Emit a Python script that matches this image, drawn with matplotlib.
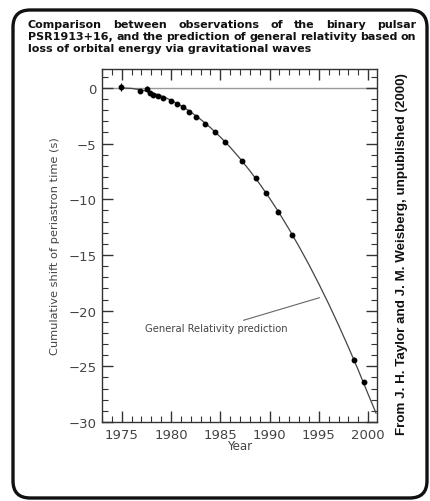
import matplotlib
matplotlib.use("Agg")
import matplotlib.pyplot as plt
from matplotlib.patches import FancyBboxPatch
from matplotlib.ticker import MultipleLocator

# ---- data ----
obs_year = [1974.9, 1976.9, 1977.6, 1977.9, 1978.2, 1978.7, 1979.2, 1980.0, 1980.6,
            1981.2, 1981.8, 1982.5, 1983.5, 1984.5, 1985.5, 1987.2, 1988.6, 1989.6,
            1990.9, 1992.3, 1998.6, 1999.6]
obs_shift = [0.1, -0.3, -0.1, -0.5, -0.6, -0.7, -0.9, -1.2, -1.4,
             -1.7, -2.2, -2.6, -3.2, -4.0, -4.9, -6.6, -8.1, -9.4,
             -11.1, -13.2, -24.4, -26.4]
obs_err = [0.35, 0.15, 0.3, 0.15, 0.15, 0.1, 0.1, 0.1, 0.1,
           0.1, 0.1, 0.1, 0.1, 0.1, 0.1, 0.1, 0.15, 0.15,
           0.2, 0.15, 0.2, 0.2]

gr_year = [1975, 1976, 1977, 1978, 1979, 1980, 1981, 1982, 1983, 1984, 1985, 1986,
           1987, 1988, 1989, 1990, 1991, 1992, 1993, 1994, 1995, 1996, 1997, 1998,
           1999, 2000, 2000.8]
gr_shift = [0.0, -0.04, -0.18, -0.40, -0.70, -1.10, -1.58, -2.16, -2.82, -3.56, -4.40,
            -5.32, -6.34, -7.44, -8.62, -9.90, -11.26, -12.72, -14.26, -15.88, -17.60,
            -19.40, -21.30, -23.28, -25.34, -27.50, -29.2]

xticks = [1975, 1980, 1985, 1990, 1995, 2000]
yticks = [0, -5, -10, -15, -20, -25, -30]

title_lines = [
    "Comparison between observations of the binary pulsar",
    "PSR1913+16, and the prediction of general relativity based on",
    "loss of orbital energy via gravitational waves",
]
credit = "From J. H. Taylor and J. M. Weisberg, unpublished (2000)"

W, H = 430, 502
fig = plt.figure(figsize=(W / 100, H / 100), dpi=100)
fig.patch.set_facecolor("white")

# rounded frame
frame = FancyBboxPatch((13 / W, 1 - 499 / H), (427 - 13) / W, (499 - 11) / H,
                       boxstyle="round,pad=0,rounding_size=0.04",
                       transform=fig.transFigure, fill=False,
                       edgecolor="#111111", linewidth=2.4, mutation_aspect=W / H)
fig.patches.append(frame)

ax = fig.add_axes([102 / W, 1 - 423 / H, (377 - 102) / W, (423 - 70) / H])
ax.set_xlim(1973.0, 2000.9)
ax.set_ylim(-30, 1.7)

ax.axhline(0, color="#999999", lw=1.0, zorder=1)
ax.plot(gr_year, gr_shift, color="#444444", lw=0.9, zorder=2)
ax.errorbar(obs_year, obs_shift, yerr=obs_err, fmt="o", color="black", ms=3.2,
            elinewidth=0.8, capsize=0, zorder=3)

ax.annotate("General Relativity prediction", xy=(1995.2, -18.8),
            xytext=(1991.8, -21.6), fontsize=7.2, color="#444444",
            ha="right", va="center",
            arrowprops=dict(arrowstyle="-", color="#666666", lw=0.8,
                            shrinkA=1, shrinkB=1))

ax.set_xticks(xticks)
ax.set_yticks(yticks)
ax.set_xticklabels([str(v) for v in xticks])
ax.set_yticklabels(["0" if v == 0 else "\u2212" + str(-v) for v in yticks])
ax.xaxis.set_minor_locator(MultipleLocator(1))
ax.yaxis.set_minor_locator(MultipleLocator(1))
ax.tick_params(which="both", direction="in", top=True, right=True,
               color="#333333", labelsize=9.5, labelcolor="#444444")
ax.tick_params(which="major", length=8, width=1.0, pad=4)
ax.tick_params(which="minor", length=4, width=0.8)
for s in ax.spines.values():
    s.set_color("#333333")
    s.set_linewidth(1.0)

ax.set_xlabel("Year", fontsize=8.5, color="#444444", labelpad=-1)
ax.set_ylabel("Cumulative shift of periastron time (s)", fontsize=8.2,
              color="#444444", labelpad=6)

# credit text on the right
fig.text(402 / W, 1 - 254 / H, credit, rotation=90, fontsize=9.6,
         fontweight="bold", ha="center", va="center", color="#111111",
         family="Liberation Sans")

# title: justified lines 1-2, left aligned line 3
x0, x1 = 28, 416
ys = [25, 37, 49]
fig.canvas.draw()
renderer = fig.canvas.get_renderer()
tkw = dict(fontsize=8.0, color="#111111", va="center", ha="left",
           fontweight="bold", family="DejaVu Sans")
for i, line in enumerate(title_lines):
    yf = 1 - ys[i] / H
    if i < 2:
        words = line.split()
        texts = [fig.text(0, yf, w, **tkw) for w in words]
        widths = [t.get_window_extent(renderer).width for t in texts]
        gap = (x1 - x0 - sum(widths)) / (len(words) - 1)
        x = x0
        for t, w in zip(texts, widths):
            t.set_x(x / W)
            x += w + gap
    else:
        fig.text(x0 / W, yf, line, **tkw)

fig.savefig("out.png", dpi=100, facecolor="white")
